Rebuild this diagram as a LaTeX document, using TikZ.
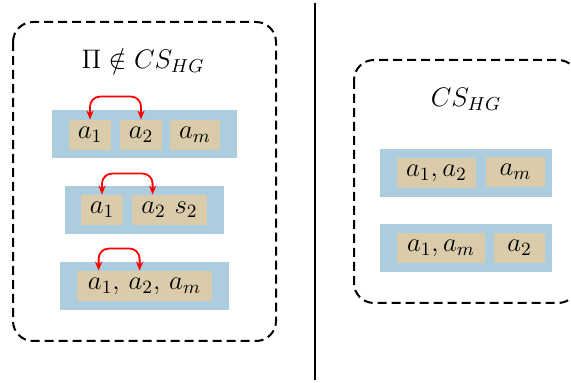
\documentclass[tikz,border=0pt]{standalone}
\usepackage{fix-cm}
\usepackage{amsmath}
\usepackage{amssymb}
\usepackage{tikz}
\usetikzlibrary{calc,arrows.meta}

\definecolor{rowblue}{RGB}{171,205,222}
\definecolor{itemtan}{RGB}{218,204,171}

\tikzset{
  group/.style = {draw, line width=1pt, dash pattern=on 4.5pt off 2.5pt, rounded corners=10pt},
  row/.style = {fill=rowblue, inner sep=0pt, minimum height=24pt},
  item/.style = {fill=itemtan, inner sep=0pt, minimum height=15pt},
  link/.style = {{Stealth[length=4.5pt,width=3.6pt]}-{Stealth[length=4.5pt,width=3.6pt]}, red, line width=0.9pt, rounded corners=5pt}
}

\begin{document}
\begin{tikzpicture}[x=0.5pt,y=-0.5pt,font=\fontsize{13.4}{16}\selectfont]
\useasboundingbox (0,0) rectangle (571,383);

% left side
\draw[group] (13,22) rectangle (276,341);
\node (lt) at (143,60) {$\Pi \notin CS_{HG}$};

\node[row, minimum width=92.5pt] (r1) at (144.5,134.5) {};
\node[item, minimum width=21pt] (r1a) at (90,135) {$a_1$};
\node[item, minimum width=21pt] (r1b) at (141,135) {$a_2$};
\node[item, minimum width=25pt] (r1c) at (195,135) {$a_m$};
\draw[link] (r1a.north) -- ++(0,-23) -| (r1b.north);

\node[row, minimum width=79.5pt] (r2) at (144.5,210.5) {};
\node[item, minimum width=21pt] (r2a) at (102,210) {$a_1$};
\node[item, minimum width=37.5pt] (r2b) at (169.5,210) {$a_2\ s_2$};
\draw[link] (r2a.north) -- ++(0,-21) -| ($(r2b.north west)+(21,0)$);

\node[row, minimum width=84.5pt] (r3) at (144.5,286) {};
\node[item, minimum width=67.5pt] (r3a) at (144.5,286) {$a_1,\, a_2,\, a_m$};
\draw[link] (r3a.north west)++(22,0) coordinate (p1) -- ++(0,-22) -| ($(r3a.north west)+(63,0)$);

% divider
\draw[line width=1pt] (315,3) -- (315,380);

% right side
\draw[group] (354,60) rectangle (578,303);
\node (rt) at (466,99) {$CS_{HG}$};

\node[row, minimum width=86pt] (s1) at (466,173) {};
\node[item, minimum width=39.5pt] (s1a) at (436.5,173) {$a_1,a_2$};
\node[item, minimum width=29.5pt] (s1b) at (515.5,172) {$a_m$};

\node[row, minimum width=86pt] (s2) at (466,248) {};
\node[item, minimum width=44pt] (s2a) at (441,248) {$a_1,a_m$};
\node[item, minimum width=25.5pt] (s2b) at (519.5,248) {$a_2$};
\end{tikzpicture}
\end{document}
